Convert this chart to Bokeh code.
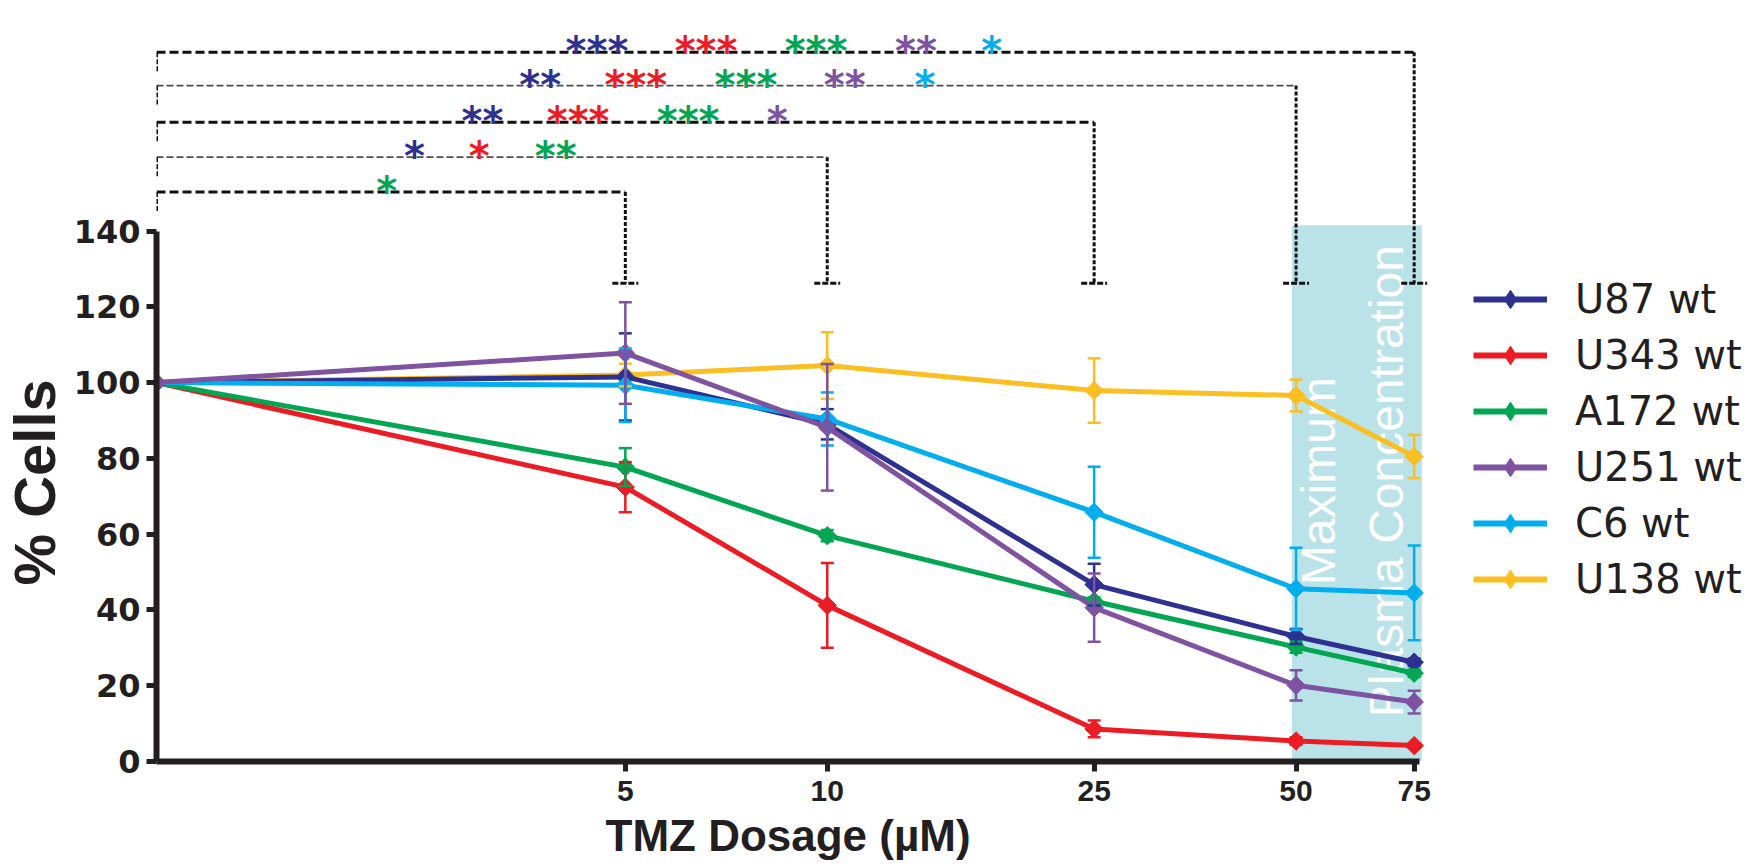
import math
from bokeh.plotting import figure
from bokeh.models import (ColumnDataSource, FixedTicker, Range1d, Whisker, TeeHead,
                          Legend, LegendItem, BoxAnnotation, Title)
from bokeh.core.properties import value
from bokeh.embed import file_html
from bokeh.resources import INLINE

# ---------------- data ----------------
doses = [1, 5, 10, 25, 50, 75]          # control (0 uM) is drawn at 1 on the log axis
x_ticks = [5, 10, 25, 50, 75]
x_tick_labels = ["5", "10", "25", "50", "75"]
y_ticks = [0, 20, 40, 60, 80, 100, 120, 140]
x_title = "TMZ Dosage (µM)"
y_title = "% Cells"

cell_lines = ["U87 wt", "U343 wt", "A172 wt", "U251 wt", "C6 wt", "U138 wt"]
u87_mean = [100, 101.5, 89.0, 46.7, 33.0, 26.2]
u87_err = [0, 11.5, 4.0, 5.5, 2.0, 1.0]
u343_mean = [100, 72.4, 41.2, 8.6, 5.4, 4.2]
u343_err = [0, 6.6, 11.2, 2.2, 1.0, 0.6]
a172_mean = [100, 77.7, 59.6, 42.3, 30.2, 23.3]
a172_err = [0, 5.0, 1.5, 1.0, 1.5, 1.0]
u251_mean = [100, 107.8, 88.2, 40.6, 20.1, 15.7]
u251_err = [0, 13.4, 16.7, 9.0, 4.0, 3.0]
c6_mean = [100, 99.3, 90.4, 65.8, 45.6, 44.5]
c6_err = [0, 9.7, 7.0, 12.0, 10.8, 12.5]
u138_mean = [100, 102.0, 104.5, 97.9, 96.6, 80.5]
u138_err = [0, 3.0, 8.8, 8.5, 4.2, 5.7]

means = [u87_mean, u343_mean, a172_mean, u251_mean, c6_mean, u138_mean]
errs = [u87_err, u343_err, a172_err, u251_err, c6_err, u138_err]

# maximum plasma concentration band
plasma_low, plasma_high, plasma_top = 49.3, 77.0, 141.5
plasma_text = "Maximum\nPlasma Concentration"

# significance vs control, one list per comparison dose
sig_doses = [5, 10, 25, 50, 75]
sig_5 = [("A172 wt", "*")]
sig_10 = [("U87 wt", "*"), ("U343 wt", "*"), ("A172 wt", "**")]
sig_25 = [("U87 wt", "**"), ("U343 wt", "***"), ("A172 wt", "***"), ("U251 wt", "*")]
sig_50 = [("U87 wt", "**"), ("U343 wt", "***"), ("A172 wt", "***"), ("U251 wt", "**"), ("C6 wt", "*")]
sig_75 = [("U87 wt", "***"), ("U343 wt", "***"), ("A172 wt", "***"), ("U251 wt", "**"), ("C6 wt", "*")]
sig_all = [sig_5, sig_10, sig_25, sig_50, sig_75]

# ---------------- layout / style ----------------
colors = {"U87 wt": "#2e3192", "U343 wt": "#ed1c24", "A172 wt": "#00a651",
          "U251 wt": "#7f52a2", "C6 wt": "#00aeef", "U138 wt": "#fbbf21"}
draw_order = ["U138 wt", "U343 wt", "A172 wt", "U87 wt", "C6 wt", "U251 wt"]
INK = "#231f20"
NAN = float("nan")

W, H = 1747, 866
ML, MR, MT, MB = 153, 0, 10, 105
PX_DEC = 672.0          # pixels per decade on the log x axis
PX_UNIT = 3.789         # pixels per % on the y axis
x_end = 10 ** ((W - ML - MR) / PX_DEC)
y_end = (H - MB - MT) / PX_UNIT
x_axis_end = 76.5

bracket_y = [150.3, 159.5, 168.7, 178.4, 187.2]
bracket_thick = [True, False, True, False, True]
bracket_foot = 126.2
left_drop = 5.3
cap_ratio = 10 ** (13 / PX_DEC)
star_x = [[2.204],
          [2.425, 3.027, 3.938],
          [3.061, 4.252, 6.203, 8.421],
          [3.734, 5.184, 7.565, 10.62, 13.99],
          [4.536, 6.596, 9.623, 13.56, 17.59]]

p = figure(width=W, height=H, x_axis_type="log",
           x_range=Range1d(1, x_end), y_range=Range1d(0, y_end),
           output_backend="svg", toolbar_location=None,
           min_border_left=ML, min_border_right=MR, min_border_top=MT, min_border_bottom=MB)
p.outline_line_color = None
p.xgrid.visible = False
p.ygrid.visible = False
p.background_fill_color = "white"

# plasma band
p.add_layout(BoxAnnotation(left=plasma_low, right=plasma_high, bottom=0, top=plasma_top,
                           fill_color="#b9e3e9", fill_alpha=1.0, line_color=None, level="underlay"))
p.text(x=[(plasma_low * plasma_high) ** 0.5 * 0.985], y=[74], text=[plasma_text], angle=math.pi / 2,
       text_align="center", text_baseline="middle", text_font=value("Liberation Sans"),
       text_font_size="48px", text_color="white", text_line_height=1.3)

# significance brackets
for i, d in enumerate(sig_doses):
    yl = bracket_y[i]
    if bracket_thick[i]:
        hw, hd, hc = 3, "9 4", "#111111"
    else:
        hw, hd, hc = 1.8, "7 3", "#4d4d4d"
    p.segment(x0=[doses[0]], y0=[yl], x1=[d], y1=[yl], line_color=hc, line_width=hw, line_dash=hd)
    p.segment(x0=[doses[0]], y0=[yl], x1=[doses[0]], y1=[yl - left_drop], line_color="#111111",
              line_width=3, line_dash="5 2")
    p.segment(x0=[d], y0=[yl], x1=[d], y1=[bracket_foot], line_color="#111111",
              line_width=3, line_dash="4 2")
    p.segment(x0=[d / cap_ratio], y0=[bracket_foot], x1=[d * cap_ratio], y1=[bracket_foot],
              line_color="#111111", line_width=3, line_dash="6 2")
    for (name, stars), sx in zip(sig_all[i], star_x[i]):
        p.text(x=[sx], y=[yl], text=[stars], text_align="center", text_baseline="alphabetic",
               y_offset=-1, text_font=value("DejaVu Sans"), text_font_style="bold",
               text_font_size="40px", text_color=colors[name])

# series
legend_r = {}
for name in draw_order:
    k = cell_lines.index(name)
    c = colors[name]
    m, e = means[k], errs[k]
    xs = [x for x, ee in zip(doses, e) if ee > 0]
    hi = [mm + ee for mm, ee in zip(m, e) if ee > 0]
    lo = [mm - ee for mm, ee in zip(m, e) if ee > 0]
    wsrc = ColumnDataSource(dict(x=xs, hi=hi, lo=lo))
    w = Whisker(source=wsrc, base="x", upper="hi", lower="lo", line_color=c, line_width=2.5,
                level="glyph",
                upper_head=TeeHead(size=13, line_color=c, line_width=2.5),
                lower_head=TeeHead(size=13, line_color=c, line_width=2.5))
    p.add_layout(w)
    src = ColumnDataSource(dict(x=doses, y=m))
    p.line("x", "y", source=src, line_color=c, line_width=5)
    p.scatter("x", "y", source=src, marker="square", angle=math.pi / 4, size=13,
              fill_color=c, line_color=c)
    # legend swatches (a single undrawn point each)
    ll = p.line(x=[NAN], y=[NAN], line_color=c, line_width=6)
    lm = p.scatter(x=[NAN], y=[NAN], marker="diamond", size=20, fill_color=c, line_color=c)
    legend_r[name] = [ll, lm]

legend = Legend(items=[LegendItem(label=n, renderers=legend_r[n]) for n in cell_lines],
                location=(1317, 159), orientation="vertical",
                background_fill_alpha=0, border_line_alpha=0, padding=0, margin=0,
                glyph_width=74, glyph_height=46, label_height=46, spacing=10, label_standoff=28,
                label_text_font="DejaVu Sans", label_text_font_size="40px",
                label_text_color=INK, label_text_baseline="middle")
p.add_layout(legend)

# axes
xa = p.xaxis[0]
xa.ticker = FixedTicker(ticks=x_ticks)
xa.major_label_overrides = {float(t): s for t, s in zip(x_ticks, x_tick_labels)}
xa.bounds = (1, x_axis_end)
xa.axis_line_width = 6
xa.axis_line_color = INK
xa.major_tick_line_width = 5
xa.major_tick_line_color = INK
xa.major_tick_out = 10
xa.major_tick_in = 0
xa.minor_tick_line_color = None
xa.major_label_text_font = "Liberation Sans"
xa.major_label_text_font_style = "bold"
xa.major_label_text_font_size = "30px"
xa.major_label_text_color = INK
xa.major_label_standoff = 9

ya = p.yaxis[0]
ya.ticker = FixedTicker(ticks=y_ticks)
ya.bounds = (0, 140)
ya.axis_line_width = 6
ya.axis_line_color = INK
ya.major_tick_line_width = 5
ya.major_tick_line_color = INK
ya.major_tick_out = 10
ya.major_tick_in = 0
ya.minor_tick_line_color = None
ya.major_label_text_font = "DejaVu Sans"
ya.major_label_text_font_style = "bold"
ya.major_label_text_font_size = "32px"
ya.major_label_text_color = INK
ya.major_label_standoff = 6

# axis titles (side-panel titles, offset along the drawn extent of each axis)
p.add_layout(Title(text=x_title, align="left", offset=449, vertical_align="bottom", standoff=10,
                   text_font="Liberation Sans", text_font_style="bold", text_font_size="44px",
                   text_color=INK), "below")
p.add_layout(Title(text=y_title, align="left", offset=176, vertical_align="top", standoff=3,
                   text_font="Liberation Sans", text_font_style="bold", text_font_size="58px",
                   text_color=INK), "left")

open("out.html", "w").write(file_html(p, INLINE))
